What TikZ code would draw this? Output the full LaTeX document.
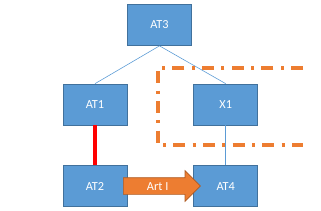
\documentclass[tikz,border=0pt]{standalone}
\usepackage{fontspec}
\setmainfont{Carlito}
\usepackage{tikz}
\usetikzlibrary{shapes.arrows, positioning}
\definecolor{boxblue}{RGB}{91,155,213}
\definecolor{boxedge}{RGB}{65,113,156}
\definecolor{myorange}{RGB}{237,125,49}
\definecolor{orangeedge}{RGB}{174,90,33}
\tikzset{
  block/.style={rectangle, draw=boxedge, fill=boxblue, text=white,
    minimum width=1.92cm, minimum height=1.23cm, line width=0.6pt,
    font=\fontsize{10.5}{12}\selectfont},
  line/.style={color=boxblue, line width=0.5pt},
  redline/.style={color=red, line width=3.2pt},
  frame/.style={color=myorange, line width=2.8pt,
    dash pattern=on 0.36cm off 0.22cm on 0.09cm off 0.22cm},
  fatarrow/.style={single arrow, draw=orangeedge, fill=myorange, text=white,
    minimum height=2.31cm, single arrow head extend=0.21cm,
    text height=0.32cm, text depth=0.06cm, inner xsep=2pt, inner ysep=0.05cm,
    line width=0.6pt, font=\fontsize{10.5}{12}\selectfont}
}
\begin{document}
\begin{tikzpicture}[x=0.03cm, y=-0.03cm]
  \useasboundingbox (0,0) rectangle (321,210);
  \node[block] (at3) at (159.5,25) {AT3};
  \node[block] (at1) at (95,104.5) {AT1};
  \node[block, right=1.98cm of at1] (x1) {X1};
  \node[block, below=1.2cm of at1] (at2) {AT2};
  \node[block, below=1.2cm of x1] (at4) {AT4};

  \draw[line] (at3.south) -- (at1.north);
  \draw[line] (at3.south) -- (x1.north);
  \draw[line] (x1) -- (at4);
  \draw[redline] (at1) -- (at2);

  % open frame round X1
  \coordinate (ftr) at (303,68);
  \coordinate (fbr) at (303,145);
  \draw[frame] (ftr) -- (158,68) -- (158,145) -- (fbr);

  \node[fatarrow, anchor=tail] (art) at (123,186) {Art I};
\end{tikzpicture}
\end{document}
